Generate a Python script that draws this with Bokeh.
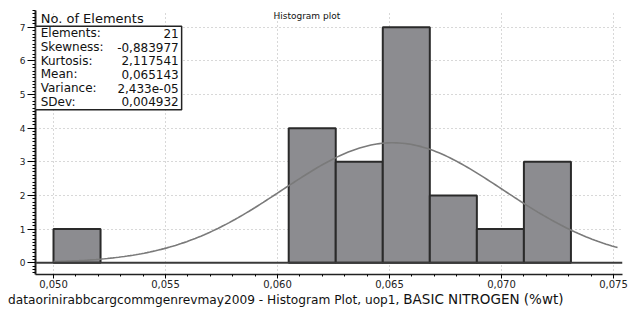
import numpy as np
from bokeh.plotting import figure
from bokeh.layouts import column
from bokeh.models import Range1d, Span, Label, BoxAnnotation, CustomJSTickFormatter, FixedTicker, Div
from bokeh.embed import file_html
from bokeh.resources import INLINE

# ---- data ----
bin_left = [0.0500, 0.0521, 0.0542, 0.0563, 0.0584, 0.0605, 0.0626, 0.0647, 0.0668, 0.0689, 0.0710]
counts = [1, 0, 0, 0, 0, 4, 3, 7, 2, 1, 3]
bin_width = 0.0021
stat_names = ["Elements:", "Skewness:", "Kurtosis:", "Mean:", "Variance:", "SDev:"]
stat_values = ["21", "-0,883977", "2,117541", "0,065143", "2,433e-05", "0,004932"]
n_elements = 21
mean = 0.065143
sdev = 0.004932
x_ticks = [0.050, 0.055, 0.060, 0.065, 0.070, 0.075]
y_ticks = [0, 1, 2, 3, 4, 5, 6, 7]
caption_main = "dataorinirabbcargcommgenrevmay2009 - Histogram Plot, uop1,"
caption_var = "BASIC NITROGEN (%wt)"

FONT = "DejaVu Sans"
X0, X1 = 0.049196, 0.075402
Y0, Y1 = -0.35, 7.5

p = figure(width=628, height=292, output_backend="svg", toolbar_location=None,
           x_range=Range1d(X0, X1), y_range=Range1d(Y0, Y1),
           min_border_left=35, min_border_right=6, min_border_top=10, min_border_bottom=18)
p.outline_line_color = None
p.background_fill_color = "white"

# grid
p.xgrid.ticker = FixedTicker(ticks=x_ticks)
p.ygrid.ticker = FixedTicker(ticks=y_ticks[1:])
for g in (p.xgrid, p.ygrid):
    g.grid_line_color = "#b0b0b0"
    g.grid_line_dash = "1 3"
    g.grid_line_width = 1

# bars
lefts = [l for l, c in zip(bin_left, counts) if c > 0]
tops = [c for c in counts if c > 0]
rights = [l + bin_width for l in lefts]
p.quad(left=lefts, right=rights, bottom=0, top=tops,
       fill_color="#8c8c90", line_color="#2a2a2a", line_width=2)

# fitted normal curve (from the shown Mean and SDev)
xs = np.linspace(bin_left[0], 0.07518, 200)
ys = n_elements * bin_width / (sdev * np.sqrt(2 * np.pi)) * np.exp(-0.5 * ((xs - mean) / sdev) ** 2)
p.line(xs, ys, line_color="#7a7a7a", line_width=1.6)

p.add_layout(Span(location=0, dimension="width", line_color="#3a3a3a", line_width=2))

# axes
xa = p.xaxis[0]
xa.ticker = FixedTicker(ticks=x_ticks, minor_ticks=list(np.round(np.arange(0.049, 0.0755, 0.001), 4)))
xa.formatter = CustomJSTickFormatter(code="return tick.toFixed(3).replace('.', ',');")
xa.major_label_text_font = FONT
xa.major_label_text_font_size = "10px"
xa.major_label_text_color = "#222"
xa.axis_line_width = 1.5
xa.axis_line_color = "#222"
xa.major_tick_out = 4
xa.major_tick_in = 0
xa.minor_tick_out = 2
xa.minor_tick_in = 0
xa.major_label_standoff = 1

ya = p.yaxis[0]
ya.ticker = FixedTicker(ticks=y_ticks, minor_ticks=list(np.round(np.arange(-0.3, 7.55, 0.1), 2)))
ya.major_label_text_font = FONT
ya.major_label_text_font_size = "9px"
ya.major_label_text_color = "#222"
ya.axis_line_width = 2
ya.axis_line_color = "#222"
ya.major_tick_out = 8
ya.major_tick_in = 0
ya.minor_tick_out = 3
ya.minor_tick_in = 0
ya.major_label_standoff = 2

# stats box
p.add_layout(BoxAnnotation(left=X0, right=0.05572, top=7.03, bottom=4.55,
                           fill_color="white", fill_alpha=1.0,
                           line_color="#222", line_width=1.5, line_alpha=1.0))
line_y = [6.82, 6.41, 6.01, 5.60, 5.19, 4.78]
for name, val, yy in zip(stat_names, stat_values, line_y):
    p.add_layout(Label(x=0.04943, y=yy, text=name, text_font=FONT, text_font_size="12px",
                       text_baseline="middle", text_color="#111"))
    p.add_layout(Label(x=0.05559, y=yy, text=val, text_font=FONT, text_font_size="12px",
                       text_baseline="middle", text_align="right", text_color="#111"))

p.add_layout(Label(x=0.04943, y=7.27, text="No. of Elements", text_font=FONT,
                   text_font_size="13px", text_baseline="middle", text_color="#111"))
p.add_layout(Label(x=0.06131, y=7.34, text="Histogram plot", text_font=FONT,
                   text_font_size="9px", text_baseline="middle", text_align="center", text_color="#111"))

caption = Div(
    text=(f'<div style="padding-left:8px; white-space:nowrap; line-height:13px; '
          f'font-family:\'{FONT}\'; color:#111;">'
          f'<span style="font-size:12.2px;">{caption_main} </span>'
          f'<span style="font-size:13.5px;">{caption_var}</span></div>'),
    width=628, height=13, margin=(0, 0, 0, 0))

layout = column(p, caption, spacing=0)
open("out.html", "w").write(file_html(layout, INLINE))
